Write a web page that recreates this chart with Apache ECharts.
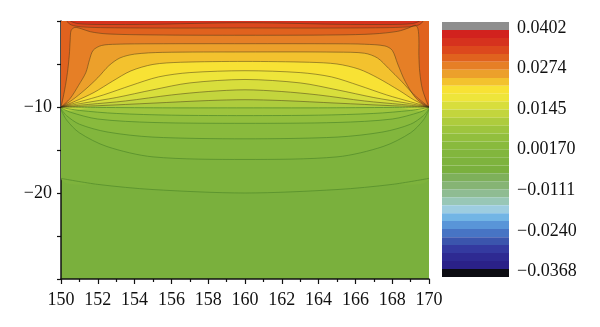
<!DOCTYPE html>
<html><head><meta charset="utf-8">
<script src="https://cdn.jsdelivr.net/npm/echarts@6/dist/echarts.min.js"></script>
<style>html,body{margin:0;padding:0;background:#fff}#c{width:600px;height:327px}</style>
</head><body><div id="c"></div>
<script>
// ---------- colour scale (top band first) ----------
const levelEdges = [0.0421,0.0396,0.0370,0.0345,0.0320,0.0295,0.0270,0.0244,0.0219,0.0194,0.0169,0.0144,0.0118,0.0093,0.0068,0.0043,0.0018,-0.0007,-0.0033,-0.0058,-0.0083,-0.0108,-0.0134,-0.0159,-0.0184,-0.0209,-0.0234,-0.0260,-0.0285,-0.0310,-0.0335,-0.0361,-0.0386];
const bandColors = ['#8e8e8e','#d2221e','#d6321e','#dc481d','#e0621e','#e67f26','#eca02b','#f3c22e','#f8e234','#eee53a','#d8de3c','#c3d53d','#aecc3d','#9ec53d','#92bf3d','#89ba3d','#82b63d','#7eb33d','#7ab03d','#7eb05a','#86b474','#8fbc92','#98c7b6','#9dcde0','#72b5e5','#5995d8','#4774c4','#3b55ad','#343aa0','#2e2a92','#2a2188','#0c0c12'];
const colorbarTickValues = [0.0402,0.0274,0.0145,0.0017,-0.0111,-0.0240,-0.0368];
const colorbarTickLabels = ['0.0402','0.0274','0.0145','0.00170','\u22120.0111','\u22120.0240','\u22120.0368'];

// ---------- axes ----------
const yTickValues = [-10,-20];
const yTickLabels = ['\u221210','\u221220'];

// ---------- contour lines (x, depth), lowest level first ----------
const baseBand = 18;
const contourBand = [17,16,15,14,13,12,11,10,9,8,7,6,5,4,3,2];
const contourLines = [
 [[150,-18.3],[152,-19.0],[155,-19.6],[160,-20.0],[165,-19.6],[168,-19.0],[170,-18.3]],
 [[150,-10.3],[150.3,-11.5],[151,-13],[152.5,-14.6],[155,-15.8],[160,-16.1],[165,-15.8],[167.5,-14.6],[169,-13],[169.7,-11.5],[170,-10.3]],
 [[150,-10.2],[150.3,-11],[151,-12],[152.5,-12.9],[155,-13.5],[160,-13.7],[165,-13.5],[167.5,-12.9],[169,-12],[169.7,-11],[170,-10.2]],
 [[150,-10.1],[150.5,-10.6],[152,-11.4],[155,-11.8],[160,-11.9],[165,-11.8],[168,-11.4],[169.5,-10.6],[170,-10.1]],
 [[150,-10.05],[151,-10.4],[153,-10.75],[156,-10.95],[160,-11.0],[164,-10.95],[167,-10.75],[169,-10.4],[170,-10.05]],
 [[150,-10],[152,-10.05],[156,-10.1],[160,-10.1],[164,-10.1],[168,-10.05],[170,-10]],
 [[150,-10],[152,-9.85],[155,-9.55],[158,-9.25],[160,-9.15],[162,-9.25],[165,-9.55],[168,-9.85],[170,-10]],
 [[150,-10],[151.5,-9.7],[153.5,-9.3],[156,-8.6],[158,-8.2],[160,-8.0],[162,-8.2],[164,-8.6],[166.5,-9.3],[168.5,-9.7],[170,-10]],
 [[150,-10],[151.2,-9.55],[153,-8.9],[155,-8],[157,-7.2],[160,-6.8],[163,-7.2],[165,-8],[167,-8.9],[168.8,-9.55],[170,-10]],
 [[150,-10],[151,-9.4],[152.3,-8.6],[153.8,-7.5],[155.3,-6.5],[157,-6],[160,-5.78],[163,-6],[164.7,-6.5],[166.2,-7.5],[167.7,-8.6],[169,-9.4],[170,-10]],
 [[150,-10],[150.8,-9.3],[151.8,-8.3],[152.8,-7],[153.8,-5.8],[155,-5.05],[156.5,-4.8],[160,-4.7],[163.5,-4.8],[165,-5.0],[166.2,-5.6],[167.2,-6.6],[168.4,-8.1],[169.2,-9.2],[170,-10]],
 [[150,-10],[150.6,-9.2],[151.3,-8],[152,-6.6],[152.6,-5.2],[153.2,-4.3],[154,-3.85],[155.5,-3.65],[160,-3.6],[165,-3.62],[166.5,-3.75],[167.2,-4.3],[167.8,-5.5],[168.5,-7],[169.2,-8.6],[170,-10]],
 [[150,-10],[150.5,-9],[150.95,-7.5],[151.35,-6],[151.55,-4.5],[151.75,-3.4],[152.2,-2.85],[153,-2.7],[155,-2.65],[160,-2.64],[165,-2.65],[166.5,-2.7],[167.6,-2.9],[168,-3.4],[168.3,-5],[168.7,-7],[169.3,-9],[170,-10]],
 [[150,-10],[150.2,-8],[150.35,-6],[150.45,-4],[150.5,-2.2],[150.55,-1.1],[150.75,-0.75],[151.1,-0.9],[151.6,-1.25],[152.5,-1.5],[155,-1.62],[160,-1.66],[165,-1.62],[167,-1.5],[168.3,-1.2],[168.9,-0.8],[169.25,-0.5],[169.4,-0.9],[169.45,-2.2],[169.45,-4],[169.5,-6],[169.65,-8],[170,-10]],
 [[150.3,0],[150.55,-0.45],[151.1,-0.68],[152.5,-0.78],[156,-0.82],[160,-0.81],[164,-0.82],[167.5,-0.78],[168.9,-0.68],[169.45,-0.45],[169.7,0]],
 [[150.5,0],[150.9,-0.3],[152,-0.4],[155,-0.38],[158,-0.25],[160,-0.2],[162,-0.25],[165,-0.38],[168,-0.4],[169.1,-0.3],[169.5,0]]
];

const FONT = 'Liberation Serif';
const chart = echarts.init(document.getElementById('c'), null, {renderer:'canvas', width:600, height:327});

function lineColor(i){ return contourBand[i] >= 12 ? 'rgba(84,140,44,0.85)' : 'rgba(70,55,25,0.55)'; }

const option = {
  animation:false,
  backgroundColor:'#fff',
  grid:[
    {left:61, top:21, width:368, height:258, show:true, backgroundColor:bandColors[baseBand], borderWidth:0},
    {left:442, top:22, width:67, height:255, show:false}
  ],
  xAxis:[
    {gridIndex:0, type:'value', min:150, max:170, interval:2,
     axisLine:{show:true, onZero:false, lineStyle:{color:'#111', width:1.5}},
     axisTick:{show:true, length:5, lineStyle:{color:'#111', width:1.2}},
     minorTick:{show:true, splitNumber:2, length:3, lineStyle:{color:'#111', width:1.2}},
     splitLine:{show:false}, minorSplitLine:{show:false},
     axisLabel:{fontFamily:FONT, fontSize:18, color:'#111', margin:12}},
    {gridIndex:1, type:'value', min:0, max:1, show:false}
  ],
  yAxis:[
    {gridIndex:0, type:'value', min:-30, max:0, interval:5,
     axisLine:{show:true, onZero:false, lineStyle:{color:'#111', width:1.5}},
     axisTick:{show:true, length:4, lineStyle:{color:'#111', width:1.2}},
     splitLine:{show:false},
     axisLabel:{customValues:yTickValues, fontFamily:FONT, fontSize:18, color:'#111', margin:9,
       formatter:v=>{const k=yTickValues.findIndex(t=>Math.abs(t-v)<1e-9);return k<0?'':yTickLabels[k];}}},
    {gridIndex:1, type:'value', min:levelEdges[levelEdges.length-1], max:levelEdges[0], position:'right',
     axisLine:{show:false}, axisTick:{show:false}, splitLine:{show:false},
     axisLabel:{customValues:colorbarTickValues, fontFamily:FONT, fontSize:18, color:'#111', margin:8,
       formatter:v=>{const k=colorbarTickValues.findIndex(t=>Math.abs(t-v)<1e-7);return k<0?'':colorbarTickLabels[k];}}}
  ],
  series:[
    {type:'custom', xAxisIndex:0, yAxisIndex:0, clip:true, silent:true,
     data:contourBand.map((b,i)=>[i]),
     renderItem(params, api){
       const i = api.value(0);
       const line = contourLines[i];
       const first = line[0], last = line[line.length-1];
       const pts = line.map(p=>api.coord(p));
       pts.push(api.coord([last[0]+0.5, 1]));
       pts.push(api.coord([first[0]-0.5, 1]));
       return {type:'polygon', shape:{points:pts, smooth:0.3}, style:{fill:bandColors[contourBand[i]]}};
     }},
    {type:'custom', xAxisIndex:0, yAxisIndex:0, clip:true, silent:true,
     data:contourBand.map((b,i)=>[i]),
     renderItem(params, api){
       const i = api.value(0);
       const pts = contourLines[i].map(p=>api.coord(p));
       return {type:'polyline', shape:{points:pts, smooth:0.3}, style:{fill:null, stroke:lineColor(i), lineWidth:0.9}};
     }},
    {type:'custom', xAxisIndex:1, yAxisIndex:1, silent:true,
     data:bandColors.map((c,i)=>[i, levelEdges[i+1], levelEdges[i]]),
     renderItem(params, api){
       const i = api.value(0);
       const p1 = api.coord([0, api.value(2)]);
       const p2 = api.coord([1, api.value(1)]);
       return {type:'rect', shape:{x:p1[0], y:p1[1], width:p2[0]-p1[0], height:p2[1]-p1[1]}, style:{fill:bandColors[i]}};
     }}
  ]
};
chart.setOption(option);
</script>
</body></html>
